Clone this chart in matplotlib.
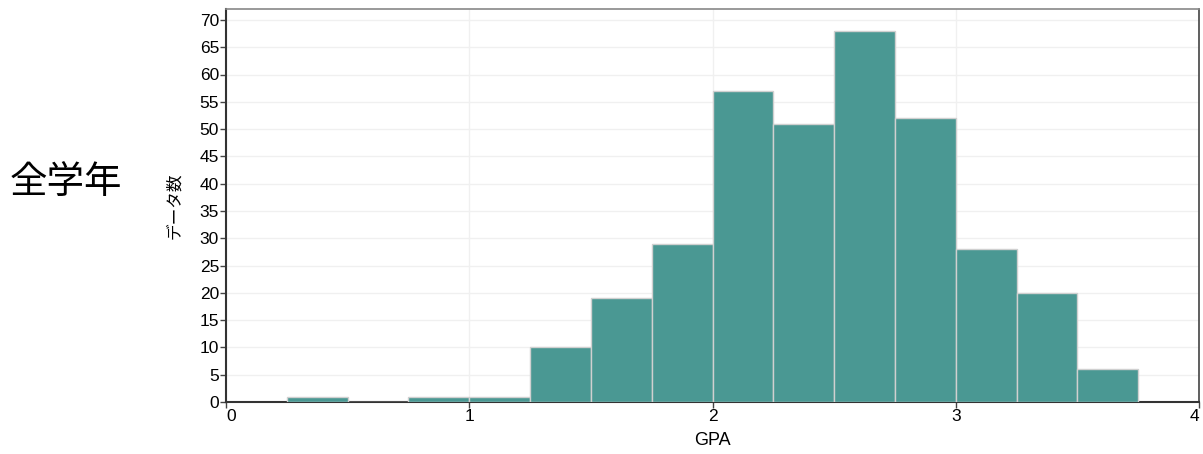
import matplotlib
matplotlib.use("Agg")
from matplotlib import pyplot as plt
import numpy as np

# histogram bins (GPA) and counts
bin_edges = [0.25, 0.5, 0.75, 1.0, 1.25, 1.5, 1.75, 2.0, 2.25, 2.5, 2.75, 3.0, 3.25, 3.5, 3.75]
counts = [1, 0, 1, 1, 10, 19, 29, 57, 51, 68, 52, 28, 20, 6]
x_ticks = [0, 1, 2, 3, 4]
y_ticks = list(range(0, 71, 5))

plt.rcParams['font.family'] = ['Liberation Sans', 'Noto Sans CJK JP', 'DejaVu Sans']

fig = plt.figure(figsize=(12.03, 4.54), dpi=100)
ax = fig.add_axes([226 / 1203, 1 - 402 / 454, 973 / 1203, 393 / 454])

lefts = np.array(bin_edges[:-1])
ax.bar(lefts, counts, width=0.25, align='edge', color='#4a9893',
       edgecolor='#d0d0d0', linewidth=1.0, zorder=3)

ax.set_xlim(0, 4)
ax.set_ylim(0, 72)
ax.set_xticks(x_ticks)
ax.set_yticks(y_ticks)
ax.grid(True, color='#f0f0f0', linewidth=1.0, zorder=0)

ax.tick_params(axis='both', labelsize=12.5, length=4, width=1, color='#444444', pad=1)
xl = ax.get_xticklabels()
xl[0].set_horizontalalignment('left')
xl[-1].set_horizontalalignment('right')

for s in ['left', 'bottom']:
    ax.spines[s].set_color('#333333')
    ax.spines[s].set_linewidth(1.5)
ax.spines['right'].set_color('#444444')
ax.spines['right'].set_linewidth(1.2)
ax.spines['top'].set_color('#888888')
ax.spines['top'].set_linewidth(1.2)

ax.set_xlabel('GPA', fontsize=13, labelpad=6)
ax.set_ylabel('データ数', fontsize=12, family=['Noto Sans CJK JP'], labelpad=12)

fig.text(66 / 1203, 1 - 183 / 454, '全学年', fontsize=27, family=['Noto Sans CJK JP'],
         ha='center', va='center')

plt.savefig('out.png', dpi=100)
